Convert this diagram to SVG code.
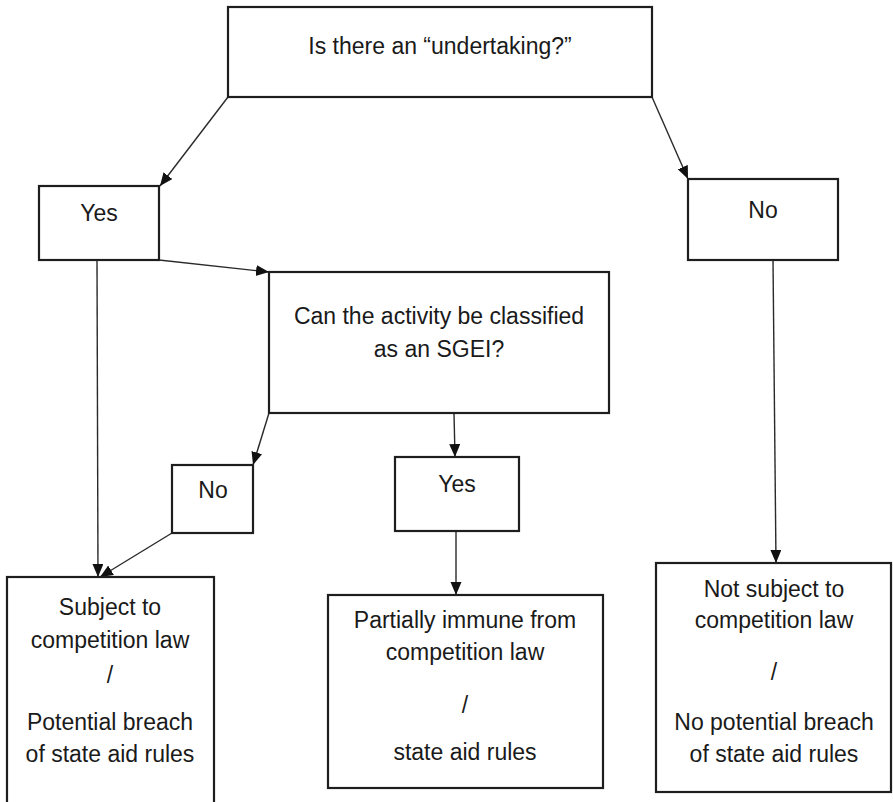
<svg xmlns="http://www.w3.org/2000/svg" width="893" height="802" viewBox="0 0 893 802">
<style>
.box{fill:#fff;stroke:#1e1e1e;stroke-width:2.2}
.t{font-family:"Liberation Sans",Arial,sans-serif;font-size:23px;fill:#1a1a1a;text-anchor:middle}
.c{stroke:#2a2a2a;stroke-width:1.4;fill:none;marker-end:url(#ah)}
</style>
<defs>
<marker id="ah" markerUnits="userSpaceOnUse" markerWidth="14" markerHeight="12" refX="13" refY="5.5" orient="auto">
<path d="M0,0 L13,5.5 L0,11 z" fill="#111"/>
</marker>
</defs>
<g id="connectors">
<line class="c" x1="228" y1="97" x2="160" y2="186"/>
<line class="c" x1="652" y1="97" x2="688" y2="179"/>
<line class="c" x1="159" y1="260" x2="269" y2="272"/>
<line class="c" x1="97" y1="260" x2="98" y2="577"/>
<line class="c" x1="269" y1="413" x2="253" y2="465"/>
<line class="c" x1="172" y1="533" x2="100" y2="577"/>
<line class="c" x1="454" y1="413" x2="455" y2="457"/>
<line class="c" x1="456" y1="531" x2="456" y2="595"/>
<line class="c" x1="773" y1="260" x2="776" y2="563"/>
</g>
<g id="q1">
<rect class="box" x="228" y="7" width="424" height="90"/>
<text class="t" x="440" y="54">Is there an “undertaking?”</text>
</g>
<g id="yes1">
<rect class="box" x="39" y="186" width="120" height="74"/>
<text class="t" x="99" y="221">Yes</text>
</g>
<g id="no1">
<rect class="box" x="688" y="179" width="150" height="81"/>
<text class="t" x="763" y="218">No</text>
</g>
<g id="q2">
<rect class="box" x="269" y="272" width="340" height="141"/>
<text class="t" x="439" y="324">Can the activity be classified</text>
<text class="t" x="439" y="357">as an SGEI?</text>
</g>
<g id="no2">
<rect class="box" x="172" y="465" width="81" height="68"/>
<text class="t" x="213" y="498">No</text>
</g>
<g id="yes2">
<rect class="box" x="395" y="457" width="124" height="74"/>
<text class="t" x="457" y="492">Yes</text>
</g>
<g id="subject">
<rect class="box" x="7" y="577" width="207" height="240"/>
<text class="t" x="110" y="615">Subject to</text>
<text class="t" x="110" y="648">competition law</text>
<text class="t" x="110" y="683">/</text>
<text class="t" x="110" y="730">Potential breach</text>
<text class="t" x="110" y="762">of state aid rules</text>
</g>
<g id="partial">
<rect class="box" x="328" y="595" width="275" height="193"/>
<text class="t" x="465" y="628">Partially immune from</text>
<text class="t" x="465" y="660">competition law</text>
<text class="t" x="465" y="713">/</text>
<text class="t" x="465" y="760">state aid rules</text>
</g>
<g id="notsubject">
<rect class="box" x="656" y="563" width="235" height="229"/>
<text class="t" x="774" y="597">Not subject to</text>
<text class="t" x="774" y="628">competition law</text>
<text class="t" x="774" y="680">/</text>
<text class="t" x="774" y="730">No potential breach</text>
<text class="t" x="774" y="762">of state aid rules</text>
</g>
</svg>
